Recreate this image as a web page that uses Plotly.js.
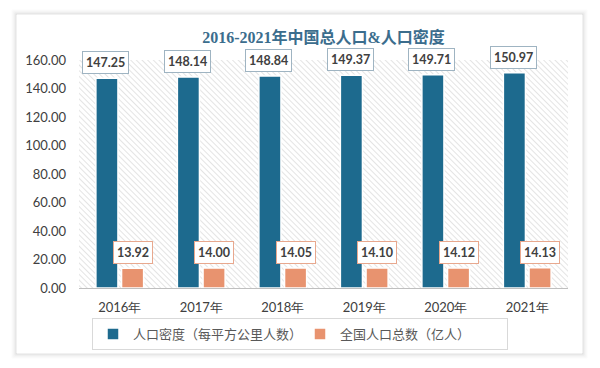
<!DOCTYPE html>
<html>
<head>
<meta charset="utf-8">
<script src="https://cdn.plot.ly/plotly-3.0.1.min.js"></script>
<style>html,body{margin:0;padding:0;background:#fff;}#chart{width:600px;height:368px;}</style>
</head>
<body>
<div id="chart"></div>
<script>
const years = ["2016年", "2017年", "2018年", "2019年", "2020年", "2021年"];
const density = [147.25, 148.14, 148.84, 149.37, 149.71, 150.97];
const population = [13.92, 14.00, 14.05, 14.10, 14.12, 14.13];
const seriesNames = ["人口密度（每平方公里人数）", "全国人口总数（亿人）"];
const chartTitle = "2016-2021年中国总人口&人口密度";

const blue = "#1d6a8e";
const orange = "#e8936f";

const L = 79, R = 568, T = 60, B = 288, W = 600, H = 368;
const px = v => (v - L) / (R - L);
const py = v => (B - v) / (B - T);

const traces = [
  {type: "bar", name: seriesNames[0], x: years, y: density,
   marker: {color: blue, line: {color: "#ffffff", width: 1.5}}, hoverinfo: "x+y"},
  {type: "bar", name: seriesNames[1], x: years, y: population,
   marker: {color: orange, line: {color: "#ffffff", width: 1.5}}, hoverinfo: "x+y"}
];

const annotations = [];
years.forEach((yr, i) => {
  annotations.push({x: yr, y: density[i], xref: "x", yref: "y", text: density[i].toFixed(2),
    showarrow: false, yanchor: "bottom", xshift: -14, yshift: 4,
    bgcolor: "#ffffff", bordercolor: "#9fb4c2", borderwidth: 1, borderpad: 3,
    font: {family: "Lato, 'Open Sans', sans-serif", size: 12.5, color: "#404040", weight: "bold"}});
  annotations.push({x: yr, y: population[i], xref: "x", yref: "y", text: population[i].toFixed(2),
    showarrow: false, yanchor: "bottom", xshift: 13, yshift: 4,
    bgcolor: "#ffffff", bordercolor: "#e8a88e", borderwidth: 1, borderpad: 3,
    font: {family: "Lato, 'Open Sans', sans-serif", size: 12.5, color: "#404040", weight: "bold"}});
});

// card shadow outlines (outside the card edge)
const shapes = [];
const card = {x0: 16, x1: 582, y0: 14, y1: 353};
const shadowSteps = [
  {d: 0, c: "rgba(0,0,0,0.11)"},
  {d: 1, c: "rgba(0,0,0,0.08)"},
  {d: 2, c: "rgba(0,0,0,0.05)"},
  {d: 3, c: "rgba(0,0,0,0.03)"},
  {d: 4, c: "rgba(0,0,0,0.015)"}
];
shadowSteps.forEach(s => {
  shapes.push({type: "rect", xref: "paper", yref: "paper", layer: "below",
    x0: px(card.x0 - s.d), x1: px(card.x1 + s.d + 1),
    y0: py(card.y1 + s.d + 1), y1: py(card.y0 - s.d),
    line: {color: s.c, width: 1}, fillcolor: "rgba(0,0,0,0)"});
});

const hatchSvg = "<svg xmlns='http://www.w3.org/2000/svg' width='489' height='228'>" +
  "<defs><pattern id='p' width='4' height='4' patternUnits='userSpaceOnUse' patternTransform='rotate(-45)'>" +
  "<rect width='4' height='4' fill='#ffffff'/><line x1='0' y1='0' x2='0' y2='4' stroke='#dedede' stroke-width='1.6'/>" +
  "</pattern></defs><rect width='489' height='228' fill='url(#p)'/></svg>";

const layout = {
  width: W, height: H,
  margin: {l: L, r: W - R, t: T, b: H - B, pad: 0},
  paper_bgcolor: "#ffffff",
  plot_bgcolor: "rgba(0,0,0,0)",
  title: {text: chartTitle, x: 0.5, xref: "paper", xanchor: "center", y: 1 - 37 / H, yanchor: "middle",
    font: {family: "'Liberation Serif', 'DejaVu Serif', 'Noto Sans CJK SC', serif", size: 16, color: "#3b6d8d", weight: "bold"}},
  barmode: "group",
  bargap: 0.37,
  bargroupgap: 0.14,
  xaxis: {type: "category", showgrid: false, zeroline: false, showline: true, linecolor: "#bfbfbf", linewidth: 1,
    ticks: "", tickfont: {family: "Lato, 'Open Sans', sans-serif", size: 13, color: "#404040"}, ticklabelstandoff: 7,
    fixedrange: true},
  yaxis: {range: [0, 160], dtick: 20, tickformat: ".2f", showgrid: false, zeroline: false, showline: false,
    ticks: "", tickfont: {family: "Lato, 'Open Sans', sans-serif", size: 13, color: "#404040"}, ticklabelstandoff: 12,
    fixedrange: true},
  showlegend: true,
  legend: {orientation: "h", x: px(300), xanchor: "center", xref: "paper", y: py(334), yanchor: "middle", yref: "paper",
    bgcolor: "#ffffff", bordercolor: "#d9d9d9", borderwidth: 1,
    font: {family: "'Noto Sans CJK SC', sans-serif", size: 13, color: "#595959"},
    entrywidth: 162, entrywidthmode: "pixels", itemclick: false, itemdoubleclick: false},
  images: [{source: "data:image/svg+xml;charset=utf-8," + encodeURIComponent(hatchSvg),
    xref: "paper", yref: "paper", x: 0, y: 1, sizex: 1, sizey: 1, sizing: "stretch",
    xanchor: "left", yanchor: "top", layer: "below"}],
  shapes: shapes,
  annotations: annotations
};

Plotly.newPlot("chart", traces, layout, {displayModeBar: false, staticPlot: true});
</script>
</body>
</html>
